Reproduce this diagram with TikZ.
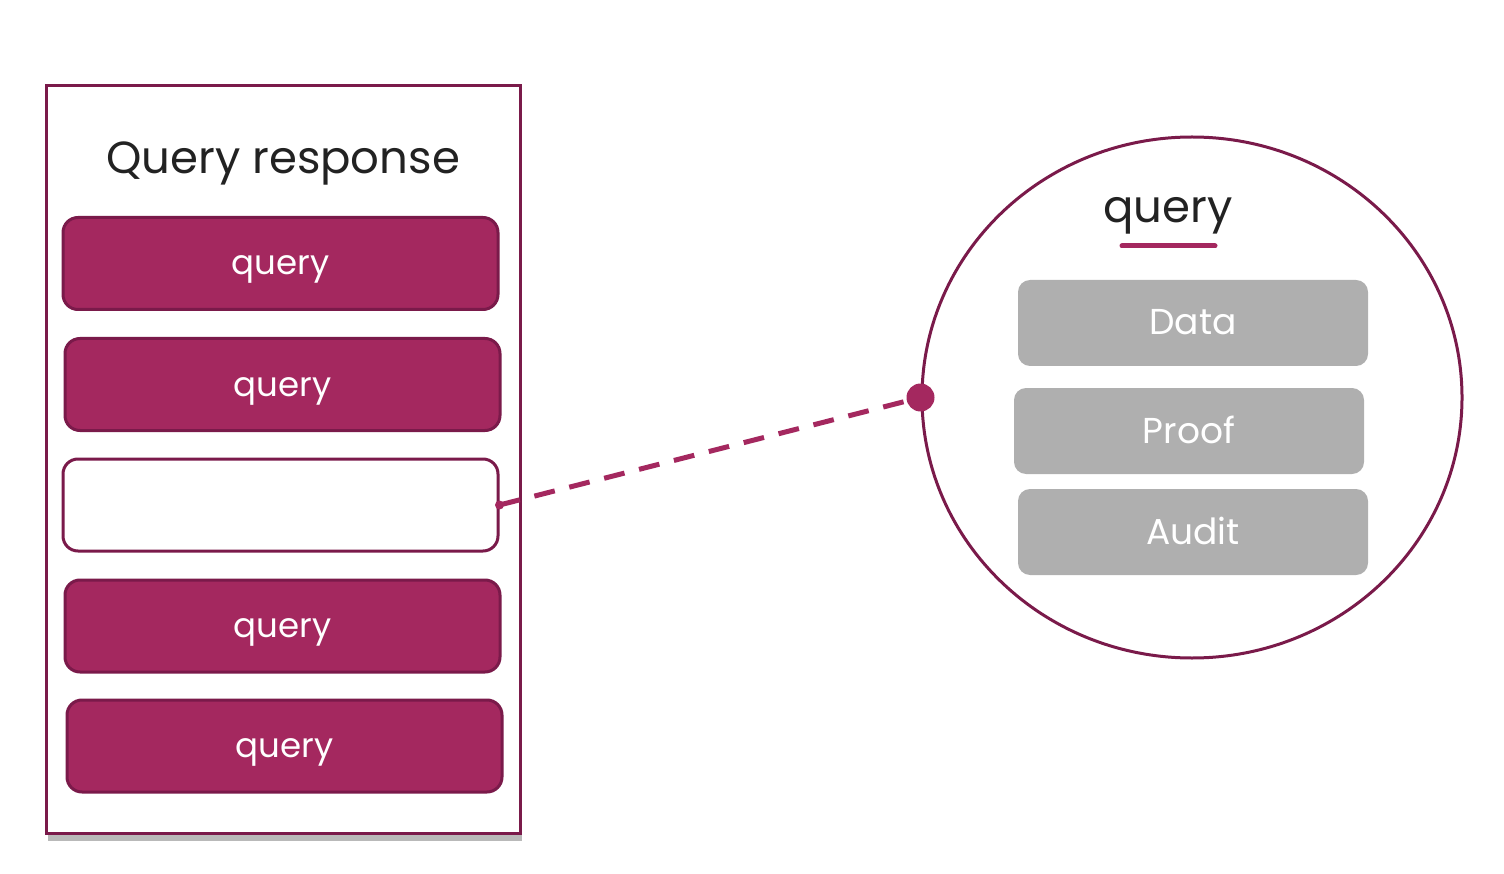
\documentclass[tikz,border=0pt]{standalone}
\usepackage{fontspec}
\setmainfont{Poppins}
\usetikzlibrary{shadows,shapes.geometric}
\definecolor{plum}{HTML}{A4285F}
\definecolor{plumdark}{HTML}{7A1A4A}
\definecolor{greybox}{HTML}{AFAFAF}
\definecolor{inktext}{HTML}{222222}
\tikzset{
  qbox/.style={draw=plumdark, line width=3pt, fill=plum, rounded corners=15pt,
    minimum width=435pt, minimum height=92pt, inner sep=0pt, text=white,
    text height=23pt, text depth=0pt,
    font=\fontsize{34}{38}\selectfont},
  emptybox/.style={qbox, fill=white},
  gbox/.style={fill=greybox, rounded corners=12pt, minimum width=350pt,
    minimum height=86pt, inner sep=0pt, text=white, text height=24pt, text depth=0pt,
    font=\fontsize{36}{40}\selectfont},
  conn/.style={plum, line width=5pt, dash pattern=on 21pt off 15pt},
}
\begin{document}
\begin{tikzpicture}[x=1pt,y=-1pt]
\useasboundingbox (0,0) rectangle (1504,874);
% outer panel
\node[draw=plumdark, line width=3pt, fill=white, minimum width=474pt, minimum height=747pt,
  inner sep=0pt, drop shadow={shadow xshift=2pt, shadow yshift=-8pt, opacity=0.55}] (panel) at (283,459.5) {};
\node[text=inktext, anchor=base, font=\fontsize{45}{50}\selectfont] (title) at (283,174) {Query response};
\node[qbox] (b1) at (280.5,263.5) {query};
\node[qbox] (b2) at (282.5,384.5) {query};
\node[emptybox] (b3) at (280.5,505) {};
\node[qbox] (b4) at (282.5,626) {query};
\node[qbox] (b5) at (284.5,746) {query};
% circle
\node[ellipse, draw=plumdark, line width=3pt, minimum width=540pt, minimum height=521pt,
  inner sep=0pt] (circ) at (1192,397.5) {};
\node[text=inktext, anchor=base, font=\fontsize{45}{50}\selectfont] (qhead) at (1168,223) {query};
\coordinate (ulA) at (1122,246);
\coordinate (ulB) at (1215,246);
\draw[plum, line width=5pt, line cap=round] (ulA) -- (ulB);
\node[gbox] (data) at (1193,323) {Data};
\node[gbox] (proof) at (1189,431) {Proof};
\node[gbox] (audit) at (1193,532) {Audit};
% connector
\draw[conn] (b3.east) -- (circ.west);
\fill[plum] (b3.east) circle (4.5pt);
\fill[plum] (circ.west) circle (14pt);
\end{tikzpicture}
\end{document}
